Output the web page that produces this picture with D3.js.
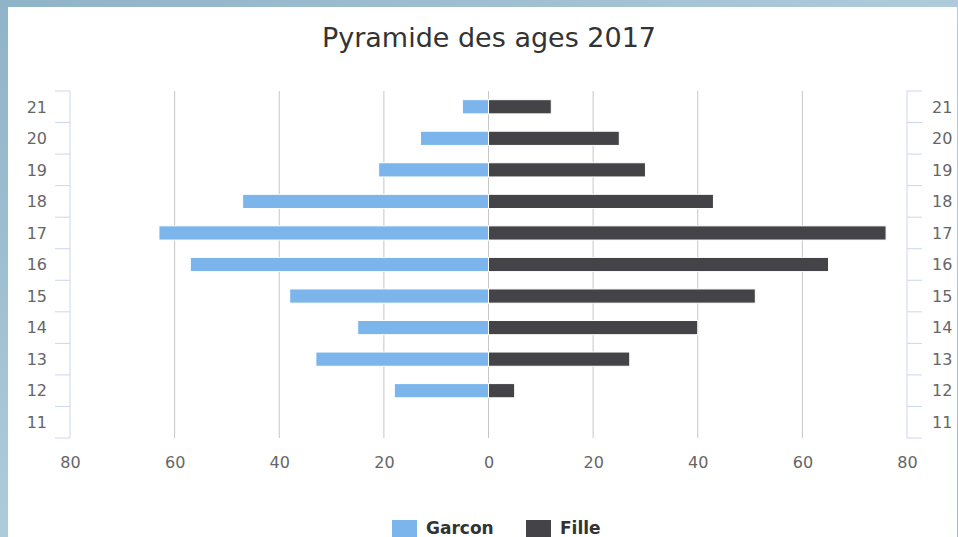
<!DOCTYPE html>
<html>
<head>
<meta charset="utf-8">
<script src="https://cdn.jsdelivr.net/npm/d3@7"></script>
<style>
  body { margin: 0; overflow: hidden; }
  svg { display: block; }
</style>
</head>
<body>
<svg id="chart"></svg>
<script>
// data (top row first)
const ages = ['21', '20', '19', '18', '17', '16', '15', '14', '13', '12', '11']
const garcon = [5, 13, 21, 47, 63, 57, 38, 25, 33, 18, 0]
const fille = [12, 25, 30, 43, 76, 65, 51, 40, 27, 5, 0]
const xTicks = [-80, -60, -40, -20, 0, 20, 40, 60, 80]
const seriesNames = ['Garcon', 'Fille']

const sizes = { width: 958, height: 537 }
const colors = { garcon: '#7cb5ec', fille: '#434348' }

let svg = d3.select('#chart')
    .attr('width', sizes.width)
    .attr('height', sizes.height)

// blue page background + white card
let grad = svg.append('defs').append('linearGradient')
    .attr('id', 'bg').attr('x1', 0).attr('y1', 0).attr('x2', 1).attr('y2', 1)
grad.append('stop').attr('offset', '0%').attr('stop-color', '#8fb3c8')
grad.append('stop').attr('offset', '50%').attr('stop-color', '#aecbdb')
grad.append('stop').attr('offset', '100%').attr('stop-color', '#9dbfd2')

svg.append('rect').attr('width', sizes.width).attr('height', sizes.height).attr('fill', 'url(#bg)')
svg.append('rect').attr('x', 8).attr('y', 7).attr('width', 949).attr('height', 530).attr('fill', '#fff')

const x = d3.scaleLinear().domain([-80, 80]).range([70, 907])
const y = d3.scaleBand().domain(ages).range([91, 438])
const barH = y.bandwidth() * 0.45

// title
svg.append('text')
    .attr('x', 489).attr('y', 47)
    .attr('text-anchor', 'middle')
    .attr('font-family', 'DejaVu Sans')
    .attr('font-size', '27px')
    .attr('fill', '#333')
    .text('Pyramide des ages 2017')

// vertical grid lines
svg.append('g')
    .selectAll('line')
    .data(xTicks.slice(1, -1))
    .join('line')
    .attr('x1', d => x(d)).attr('x2', d => x(d))
    .attr('y1', 91).attr('y2', 438)
    .attr('stroke', '#c6c6c6')
    .attr('stroke-width', 1)

// x axis labels
let xAxis = svg.append('g')
    .attr('transform', 'translate(0,454)')
    .call(d3.axisBottom(x).tickValues(xTicks).tickFormat(d => Math.abs(d)).tickSize(0))
xAxis.select('.domain').remove()
xAxis.selectAll('text')
    .attr('font-family', 'DejaVu Sans')
    .attr('font-size', '16px')
    .attr('fill', '#666')

// y axes on both sides, ticks between categories
const bounds = ages.map(a => y(a)).concat([y.range()[1]])
const sides = [
    { lx: x(-80), dir: -1, anchor: 'end', tx: 47 },
    { lx: x(80), dir: 1, anchor: 'start', tx: 932 }
]
sides.forEach(s => {
    let g = svg.append('g')
    g.append('line')
        .attr('x1', s.lx).attr('x2', s.lx)
        .attr('y1', y.range()[0]).attr('y2', y.range()[1])
        .attr('stroke', '#ccd6eb')
    g.selectAll('.tick')
        .data(bounds)
        .join('line')
        .attr('x1', s.lx).attr('x2', s.lx + s.dir * 15)
        .attr('y1', d => d).attr('y2', d => d)
        .attr('stroke', '#ccd6eb')
    g.selectAll('text')
        .data(ages)
        .join('text')
        .attr('x', s.tx)
        .attr('y', d => y(d) + y.bandwidth() / 2)
        .attr('dy', '0.36em')
        .attr('text-anchor', s.anchor)
        .attr('font-family', 'DejaVu Sans')
        .attr('font-size', '16px')
        .attr('fill', '#666')
        .text(d => d)
})

// bars
const barTop = a => y(a) + (y.bandwidth() - barH) / 2

svg.append('g')
    .selectAll('rect')
    .data(ages.map((a, i) => ({ age: a, v: -garcon[i] })).filter(d => d.v !== 0))
    .join('rect')
    .attr('x', d => x(d.v))
    .attr('y', d => barTop(d.age))
    .attr('width', d => x(0) - x(d.v))
    .attr('height', barH)
    .attr('fill', colors.garcon)
    .attr('stroke', '#fff')
    .attr('stroke-width', 1)

svg.append('g')
    .selectAll('rect')
    .data(ages.map((a, i) => ({ age: a, v: fille[i] })).filter(d => d.v !== 0))
    .join('rect')
    .attr('x', x(0))
    .attr('y', d => barTop(d.age))
    .attr('width', d => x(d.v) - x(0))
    .attr('height', barH)
    .attr('fill', colors.fille)
    .attr('stroke', '#fff')
    .attr('stroke-width', 1)

// legend (sits at the very bottom edge, as in the original)
const legendItems = [
    { name: seriesNames[0], color: colors.garcon, sx: 392, tx: 426 },
    { name: seriesNames[1], color: colors.fille, sx: 526, tx: 560 }
]
let legend = svg.append('g')
legend.selectAll('rect')
    .data(legendItems)
    .join('rect')
    .attr('x', d => d.sx).attr('y', 520)
    .attr('width', 25).attr('height', 17)
    .attr('fill', d => d.color)
legend.selectAll('text')
    .data(legendItems)
    .join('text')
    .attr('x', d => d.tx).attr('y', 534)
    .attr('font-family', 'DejaVu Sans')
    .attr('font-weight', 'bold')
    .attr('font-size', '17px')
    .attr('fill', '#333')
    .text(d => d.name)
</script>
</body>
</html>
